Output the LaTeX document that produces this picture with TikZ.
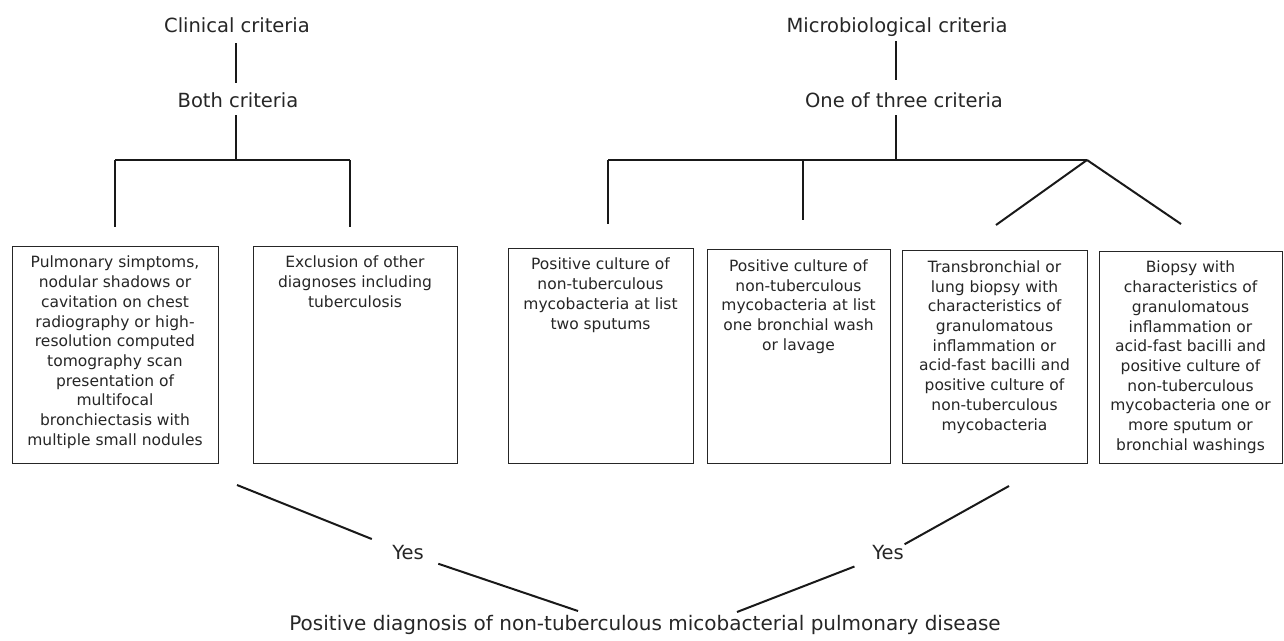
\documentclass[tikz,border=0pt]{standalone}
\usepackage{fontspec}
\setmainfont{DejaVu Sans}
\begin{document}
\begin{tikzpicture}[x=1pt,y=-1pt,
  box/.style={draw=black!85, line width=1pt, inner sep=0pt},
  btxt/.style={font=\fontsize{15.5}{19.7}\selectfont, align=center, inner sep=0pt, anchor=north, text=black!85},
  lbl/.style={font=\fontsize{19.5}{23}\selectfont, inner sep=0pt, text height=15pt, text depth=4pt, anchor=base, text=black!85},
  conn/.style={line width=2pt, draw=black!90},
  barline/.style={line width=2.5pt, draw=black!90}]
\useasboundingbox[fill=white] (0,0) rectangle (1284,640);

% top labels
\node[lbl] (clin) at (237,32) {Clinical criteria};
\node[lbl] (both) at (238,107) {Both criteria};
\node[lbl] (micro) at (897,32) {Microbiological criteria};
\node[lbl] (one) at (904,107) {One of three criteria};

% boxes
\node[box, minimum width=206pt, minimum height=217pt] (b1) at (115,354.5) {};
\node[box, minimum width=204pt, minimum height=217pt] (b2) at (355,354.5) {};
\node[box, minimum width=185pt, minimum height=215pt] (b3) at (600.5,355.5) {};
\node[box, minimum width=183pt, minimum height=214pt] (b4) at (798.5,356) {};
\node[box, minimum width=185pt, minimum height=213pt] (b5) at (994.5,356.5) {};
\node[box, minimum width=183pt, minimum height=212pt] (b6) at (1190.5,357) {};

\node[btxt] (t1) at ([yshift=-10.5pt]b1.north) {Pulmonary simptoms,\\nodular shadows or\\cavitation on chest\\radiography or high-\\resolution computed\\tomography scan\\presentation of\\multifocal\\bronchiectasis with\\multiple small nodules};
\node[btxt] (t2) at ([yshift=-10.5pt]b2.north) {Exclusion of other\\diagnoses including\\tuberculosis};
\node[btxt] (t3) at ([yshift=-10.5pt]b3.north) {Positive culture of\\non-tuberculous\\mycobacteria at list\\two sputums};
\node[btxt] (t4) at ([yshift=-11pt]b4.north) {Positive culture of\\non-tuberculous\\mycobacteria at list\\one bronchial wash\\or lavage};
\node[btxt] (t5) at ([yshift=-11pt]b5.north) {Transbronchial or\\lung biopsy with\\characteristics of\\granulomatous\\inflammation or\\acid-fast bacilli and\\positive culture of\\non-tuberculous\\mycobacteria};
\node[btxt] (t6) at ([yshift=-10.5pt]b6.north) {Biopsy with\\characteristics of\\granulomatous\\inflammation or\\acid-fast bacilli and\\positive culture of\\non-tuberculous\\mycobacteria one or\\more sputum or\\bronchial washings};

% bottom labels
\node[lbl] (yes1) at (408,559) {Yes};
\node[lbl] (yes2) at (888,559) {Yes};
\node[lbl, font=\fontsize{20}{24}\selectfont] (diag) at (645,630) {Positive diagnosis of non-tuberculous micobacterial pulmonary disease};

% junction coordinates
\coordinate (lj) at (236,160);
\coordinate (rj) at (896,160);
\coordinate (la) at (115,160);
\coordinate (lb) at (350,160);
\coordinate (ra) at (608,160);
\coordinate (rm) at (803,160);
\coordinate (rb) at (1087,160);
\coordinate (d5) at (996,225);
\coordinate (d6) at (1181,224);
\coordinate (ls) at (237,485);
\coordinate (le) at (578,611);
\coordinate (rs) at (1009,486);
\coordinate (re) at (737,612);

% clinical branch
\draw[conn, shorten <=7pt, shorten >=9pt] (clin.south -| lj) -- (both.north -| lj);
\draw[conn, shorten <=4pt] (both.south -| lj) -- (lj);
\draw[barline] (la) -- (lb);
\draw[conn, shorten >=19pt] (la) -- (la |- b1.north);
\draw[conn, shorten >=19pt] (lb) -- (lb |- b2.north);

% microbiological branch
\draw[conn, shorten <=5pt, shorten >=12pt] (micro.south -| rj) -- (one.north -| rj);
\draw[conn, shorten <=4pt] (one.south -| rj) -- (rj);
\draw[barline] (ra) -- (rb);
\draw[conn, shorten >=24pt] (ra) -- (ra |- b3.north);
\draw[conn, shorten >=29pt] (rm) -- (rm |- b4.north);
\draw[conn] (rb) -- (d5);
\draw[conn] (rb) -- (d6);

% bottom
\draw[conn, shorten >=39pt] (ls) -- (yes1.center);
\draw[conn, shorten <=32pt] (yes1.center) -- (le);
\draw[conn, shorten >=19pt] (rs) -- (yes2.center);
\draw[conn, shorten <=36pt] (yes2.center) -- (re);
\end{tikzpicture}
\end{document}
